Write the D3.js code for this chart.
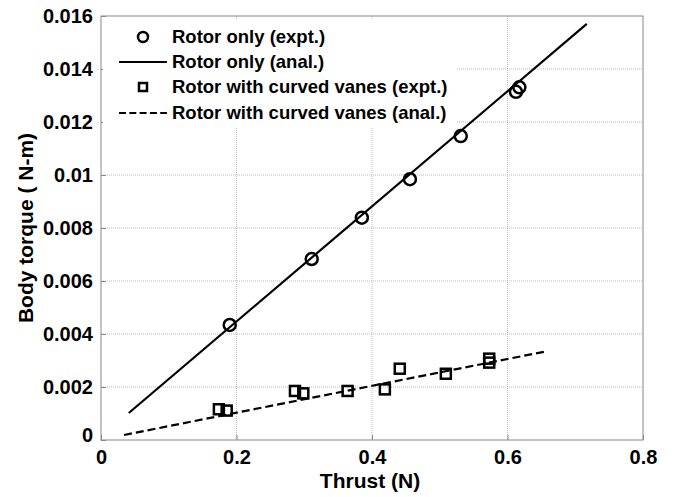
<!DOCTYPE html>
<html>
<head>
<meta charset="utf-8">
<script src="https://cdn.jsdelivr.net/npm/d3@7"></script>
<style>
  body { margin: 0; background: #fff; }
  text { font-family: "Liberation Sans", Arial, sans-serif; font-weight: bold; }
</style>
</head>
<body>
<svg></svg>
<script>
// chart data
var rotorX = [0.190, 0.311, 0.385, 0.456, 0.531, 0.6125, 0.6175];
var rotorY = [0.00434, 0.00683, 0.00839, 0.00984, 0.01147, 0.01314, 0.01331];
var rotorLineX = [0.041, 0.717];
var rotorLineY = [0.00102, 0.0157];

var vanesX = [0.174, 0.1855, 0.2863, 0.2986, 0.364, 0.419, 0.441, 0.509, 0.573, 0.573];
var vanesY = [0.00116, 0.00111, 0.00185, 0.00176, 0.00185, 0.00191, 0.00269, 0.0025, 0.00307, 0.00292];
var vanesLineX = [0.034, 0.654];
var vanesLineY = [0.00019, 0.00333];

var xTicks = [0, 0.2, 0.4, 0.6, 0.8];
var yTicks = [0, 0.002, 0.004, 0.006, 0.008, 0.01, 0.012, 0.014, 0.016];
var legendLabels = ["Rotor only (expt.)", "Rotor only (anal.)",
  "Rotor with curved vanes (expt.)", "Rotor with curved vanes (anal.)"];

var width = 676, height = 497;
var svg = d3.select("svg").attr("width", width).attr("height", height);

// plot box (don't call it "top", that's window.top)
var plotL = 101, plotR = 643, plotT = 16, plotB = 440;
var x = d3.scaleLinear().domain([0, 0.8]).range([plotL, plotR]);
var y = d3.scaleLinear().domain([0, 0.016]).range([plotB, plotT]);

// grid
svg.append("g").selectAll("line").data(xTicks.slice(1, -1)).enter().append("line")
  .attr("x1", d => x(d)).attr("x2", d => x(d)).attr("y1", plotT).attr("y2", plotB)
  .attr("stroke", "#bbb").attr("stroke-width", 1).attr("stroke-dasharray", "1,1");
svg.append("g").selectAll("line").data(yTicks.slice(1, -1)).enter().append("line")
  .attr("x1", plotL).attr("x2", plotR).attr("y1", d => y(d)).attr("y2", d => y(d))
  .attr("stroke", "#bbb").attr("stroke-width", 1).attr("stroke-dasharray", "1,1");

// axes with inward ticks
var xAxis = d3.axisBottom(x).tickValues(xTicks).tickSize(-5).tickPadding(10)
  .tickFormat(d => d === 0 ? "0" : d3.format(".1f")(d));
var yAxis = d3.axisLeft(y).tickValues(yTicks).tickSize(-5).tickPadding(8)
  .tickFormat(d => d === 0 ? "0" : (d === 0.01 ? "0.01" : d3.format(".3f")(d)));

var gx = svg.append("g").attr("transform", "translate(0," + plotB + ")").call(xAxis);
var gy = svg.append("g").attr("transform", "translate(" + plotL + ",0)").call(yAxis);
[gx, gy].forEach(g => {
  g.select(".domain").remove();
  g.selectAll("line").attr("stroke", "#888");
  g.selectAll("text").attr("font-size", 20).attr("fill", "#000")
    .style("font-family", "'Liberation Sans', Arial, sans-serif").style("font-weight", "bold");
});
gy.selectAll(".tick").filter(d => d === 0).select("text").attr("y", -5);

svg.append("rect").attr("x", plotL).attr("y", plotT)
  .attr("width", plotR - plotL).attr("height", plotB - plotT)
  .attr("fill", "none").attr("stroke", "#888").attr("stroke-width", 1);

// axis titles
svg.append("text").attr("x", 370).attr("y", 488)
  .attr("text-anchor", "middle").attr("font-size", 21).text("Thrust (N)");
svg.append("text").attr("transform", "translate(33," + ((plotT + plotB) / 2) + ") rotate(-90)")
  .attr("text-anchor", "middle").attr("font-size", 21).text("Body torque ( N-m)");

// analytical lines
var line = d3.line().x(d => x(d[0])).y(d => y(d[1]));
svg.append("path").attr("d", line(d3.zip(rotorLineX, rotorLineY)))
  .attr("fill", "none").attr("stroke", "#000").attr("stroke-width", 2.2);
svg.append("path").attr("d", line(d3.zip(vanesLineX, vanesLineY)))
  .attr("fill", "none").attr("stroke", "#000").attr("stroke-width", 2.2)
  .attr("stroke-dasharray", "8,4");

// experimental markers
svg.append("g").selectAll("circle").data(d3.zip(rotorX, rotorY)).enter().append("circle")
  .attr("cx", d => x(d[0])).attr("cy", d => y(d[1])).attr("r", 6)
  .attr("fill", "none").attr("stroke", "#000").attr("stroke-width", 2.5);
svg.append("g").selectAll("rect").data(d3.zip(vanesX, vanesY)).enter().append("rect")
  .attr("x", d => x(d[0]) - 5).attr("y", d => y(d[1]) - 5).attr("width", 10).attr("height", 10)
  .attr("fill", "none").attr("stroke", "#000").attr("stroke-width", 2.5);

// legend
var lg = svg.append("g");
lg.append("rect").attr("x", 103).attr("y", 19).attr("width", 353).attr("height", 108).attr("fill", "#fff");
var rows = [37, 62, 87, 113];
legendLabels.forEach((label, i) => {
  lg.append("text").attr("x", 172).attr("y", rows[i]).attr("dy", "0.35em")
    .attr("font-size", 18.5).text(label);
});
lg.append("circle").attr("cx", 143).attr("cy", rows[0]).attr("r", 5)
  .attr("fill", "none").attr("stroke", "#000").attr("stroke-width", 2.5);
lg.append("line").attr("x1", 119).attr("x2", 167).attr("y1", rows[1]).attr("y2", rows[1])
  .attr("stroke", "#000").attr("stroke-width", 2.2);
lg.append("rect").attr("x", 139).attr("y", rows[2] - 4).attr("width", 8).attr("height", 8)
  .attr("fill", "none").attr("stroke", "#000").attr("stroke-width", 2.5);
lg.append("line").attr("x1", 119).attr("x2", 167).attr("y1", rows[3]).attr("y2", rows[3])
  .attr("stroke", "#000").attr("stroke-width", 2.2).attr("stroke-dasharray", "7,3.3");
</script>
</body>
</html>
